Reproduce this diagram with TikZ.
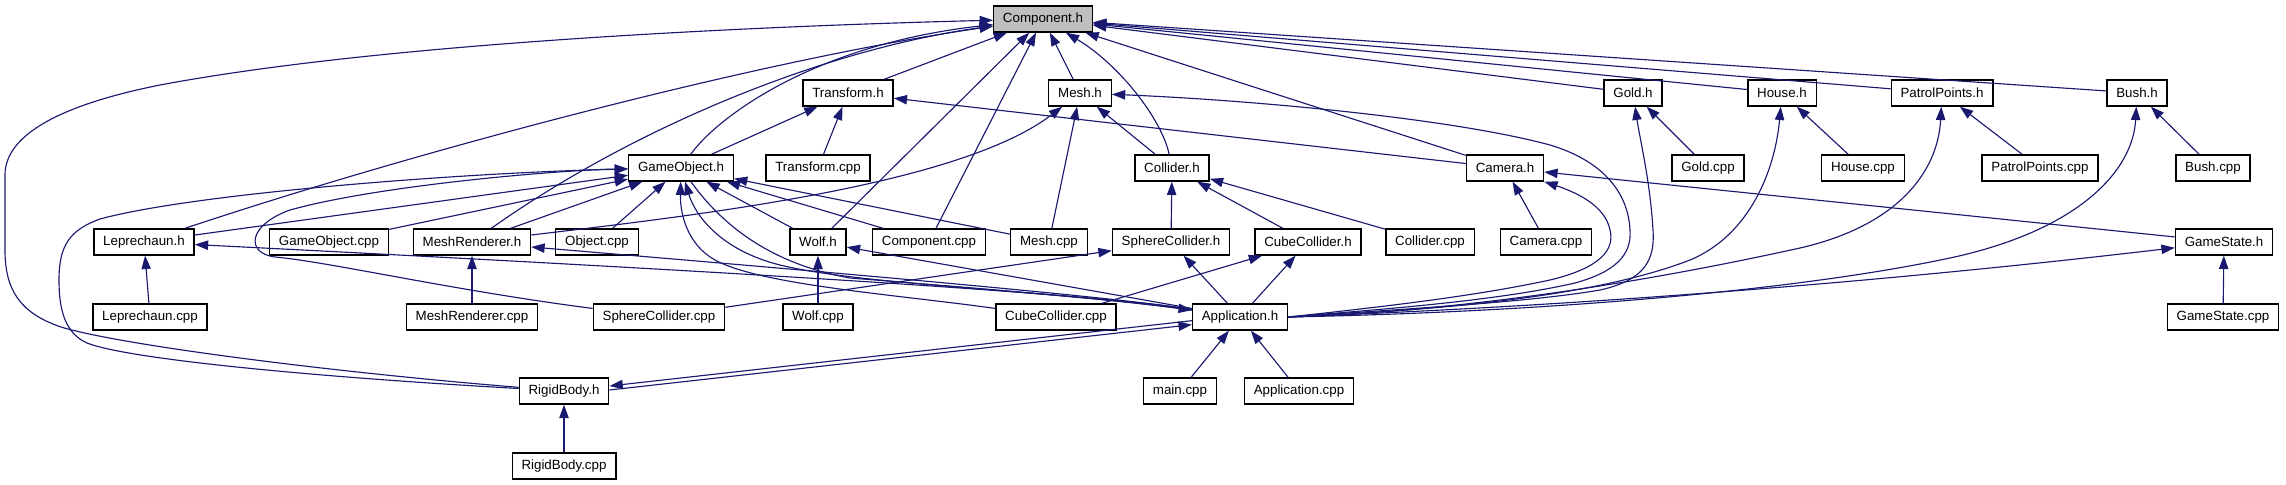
\documentclass[tikz,border=0pt]{standalone}
\usepackage{fontspec}
\setmainfont{Liberation Sans}
\usetikzlibrary{arrows.meta,calc}
\definecolor{midnight}{HTML}{191970}

\begin{document}
\begin{tikzpicture}[x=.75pt,y=-.75pt,font=\fontsize{10}{12}\selectfont,
 file/.style={draw,line width=1pt,fill=white,minimum height=19.5pt,inner xsep=7pt,inner ysep=0pt},
 dep/.style={draw=midnight,line width=.85pt,-{Triangle[length=10pt,width=7pt]}}]
 \useasboundingbox (0,0) rectangle (2286,485);
 \node[file,fill=black!25] (cmph) at (1043,19) {Component.h};
 \node[file] (trh) at (848,93) {Transform.h};
 \node[file] (meshh) at (1080,93) {Mesh.h};
 \node[file] (goldh) at (1633,93) {Gold.h};
 \node[file] (househ) at (1782,93) {House.h};
 \node[file] (pph) at (1942,93) {PatrolPoints.h};
 \node[file] (bushh) at (2137,93) {Bush.h};
 \node[file] (goh) at (681,168) {GameObject.h};
 \node[file] (trcpp) at (818,168) {Transform.cpp};
 \node[file] (colh) at (1172,168) {Collider.h};
 \node[file] (camh) at (1505,168) {Camera.h};
 \node[file] (goldcpp) at (1708,168) {Gold.cpp};
 \node[file] (housecpp) at (1863,168) {House.cpp};
 \node[file] (ppcpp) at (2040,168) {PatrolPoints.cpp};
 \node[file] (bushcpp) at (2213,168) {Bush.cpp};
 \node[file] (leph) at (144,242) {Leprechaun.h};
 \node[file] (gocpp) at (329,242) {GameObject.cpp};
 \node[file] (mrh) at (472,242) {MeshRenderer.h};
 \node[file] (objcpp) at (597,242) {Object.cpp};
 \node[file] (wolfh) at (818,242) {Wolf.h};
 \node[file] (cmpcpp) at (929,242) {Component.cpp};
 \node[file] (meshcpp) at (1049,242) {Mesh.cpp};
 \node[file] (sch) at (1171,242) {SphereCollider.h};
 \node[file] (cch) at (1308,242) {CubeCollider.h};
 \node[file] (colcpp) at (1430,242) {Collider.cpp};
 \node[file] (camcpp) at (1546,242) {Camera.cpp};
 \node[file] (gsh) at (2224,242) {GameState.h};
 \node[file] (lepcpp) at (150,317) {Leprechaun.cpp};
 \node[file] (mrcpp) at (472,317) {MeshRenderer.cpp};
 \node[file] (sccpp) at (659,317) {SphereCollider.cpp};
 \node[file] (wolfcpp) at (818,317) {Wolf.cpp};
 \node[file] (cccpp) at (1056,317) {CubeCollider.cpp};
 \node[file] (apph) at (1240,317) {Application.h};
 \node[file] (gscpp) at (2223,317) {GameState.cpp};
 \node[file] (rbh) at (564,391) {RigidBody.h};
 \node[file] (maincpp) at (1180,391) {main.cpp};
 \node[file] (appcpp) at (1299,391) {Application.cpp};
 \node[file] (rbcpp) at (564,466) {RigidBody.cpp};
 \draw[dep] (rbh) .. controls (330,372) and (120,345) .. (61,327) .. controls (20,313) and (5,290) .. (5,250) -- (5,175) .. controls (5,135) and (60,105) .. (160,85) .. controls (400,40) and (800,25) .. (cmph);
 \draw[dep] (leph) .. controls (420,150) and (760,60) .. (cmph);
 \draw[dep] (mrh) .. controls (630,130) and (820,50) .. (cmph);
 \draw[dep] (goh) .. controls (715,120) and (810,45) .. (cmph);
 \draw[dep] (trh) -- (cmph);
 \draw[dep] (wolfh) -- (cmph);
 \draw[dep] (cmpcpp) -- (cmph);
 \draw[dep] (meshh) -- (cmph);
 \draw[dep] (colh) .. controls (1162,120) and (1120,65) .. (cmph);
 \draw[dep] (camh) -- (cmph);
 \draw[dep] (goldh) -- (cmph);
 \draw[dep] (househ) -- (cmph);
 \draw[dep] (pph) -- (cmph);
 \draw[dep] (bushh) -- (cmph);
 \draw[dep] (trcpp) -- (trh);
 \draw[dep] (goh) -- (trh);
 \draw[dep] (camh) -- (trh);
 \draw[dep] (meshcpp) -- (meshh);
 \draw[dep] (colh) -- (meshh);
 \draw[dep] (mrh) .. controls (700,215) and (960,185) .. (meshh);
 \draw[dep] (apph.east) .. controls (1400,308) and (1500,300) .. (1575,283) .. controls (1615,272) and (1632,255) .. (1630,230) .. controls (1628,190) and (1600,160) .. (1550,145) .. controls (1450,118) and (1250,100) .. (meshh);
 \draw[dep] (goldcpp) -- (goldh);
 \draw[dep] (apph.east) .. controls (1420,308) and (1530,302) .. (1600,290) .. controls (1645,280) and (1655,260) .. (1653,230) .. controls (1650,180) and (1640,140) .. (goldh);
 \draw[dep] (housecpp) -- (househ);
 \draw[dep] (apph.east) .. controls (1450,310) and (1600,295) .. (1690,260) .. controls (1750,235) and (1775,170) .. (househ);
 \draw[dep] (ppcpp) -- (pph);
 \draw[dep] (apph.east) .. controls (1500,310) and (1700,270) .. (1800,248) .. controls (1900,225) and (1938,170) .. (pph);
 \draw[dep] (bushcpp) -- (bushh);
 \draw[dep] (apph.east) .. controls (1550,312) and (1800,290) .. (1950,258) .. controls (2080,230) and (2133,170) .. (bushh);
 \draw[dep] (camcpp) -- (camh);
 \draw[dep] (gsh) -- (camh);
 \draw[dep] (apph.east) .. controls (1400,305) and (1480,295) .. (1550,280) .. controls (1600,268) and (1615,250) .. (1610,230) .. controls (1605,205) and (1575,192) .. (camh.south east);
 \draw[dep] (gscpp) -- (gsh);
 \draw[dep] (apph.east) .. controls (1600,305) and (1900,280) .. (gsh);
 \draw[dep] (sch) -- (colh);
 \draw[dep] (cch) -- (colh);
 \draw[dep] (colcpp) -- (colh);
 \draw[dep] (sccpp) -- (sch);
 \draw[dep] (apph) -- (sch);
 \draw[dep] (cccpp) -- (cch);
 \draw[dep] (apph) -- (cch);
 \draw[dep] (rbh) .. controls (330,378) and (130,360) .. (87,343) .. controls (65,333) and (59,310) .. (59,280) .. controls (59,245) and (70,230) .. (100,219) .. controls (200,192) and (480,172) .. (goh);
 \draw[dep] (sccpp) .. controls (450,290) and (330,262) .. (275,257) .. controls (245,253) and (248,225) .. (290,210) .. controls (380,185) and (560,170) .. (goh);
 \draw[dep] (leph) -- (goh);
 \draw[dep] (gocpp) -- (goh);
 \draw[dep] (mrh) -- (goh);
 \draw[dep] (objcpp) -- (goh);
 \draw[dep] (cccpp) .. controls (900,295) and (760,285) .. (715,260) .. controls (688,245) and (680,215) .. (goh);
 \draw[dep] (apph) .. controls (1050,290) and (860,285) .. (780,265) .. controls (720,250) and (695,215) .. (goh);
 \draw[dep] (goh) .. controls (715,215) and (760,262) .. (850,278) .. controls (1000,290) and (1120,300) .. (apph);
 \draw[dep] (wolfh) -- (goh);
 \draw[dep] (cmpcpp) -- (goh);
 \draw[dep] (meshcpp) -- (goh);
 \draw[dep] (wolfcpp) -- (wolfh);
 \draw[dep] (apph) -- (wolfh);
 \draw[dep] (lepcpp) -- (leph);
 \draw[dep] (apph) .. controls (1120,298) and (900,280) .. (leph);
 \draw[dep] (mrcpp) -- (mrh);
 \draw[dep] (apph) .. controls (1120,298) and (900,278) .. (mrh);
 \draw[dep] (rbcpp) -- (rbh);
 \draw[dep] ($(apph.south west)+(0,-10)$) -- ($(rbh.east)+(0,-5)$);
 \draw[dep] ($(rbh.east)+(0,-1)$) -- ($(apph.south west)+(0,-6)$);
 \draw[dep] (maincpp) -- (apph);
 \draw[dep] (appcpp) -- (apph);
\end{tikzpicture}
\end{document}
